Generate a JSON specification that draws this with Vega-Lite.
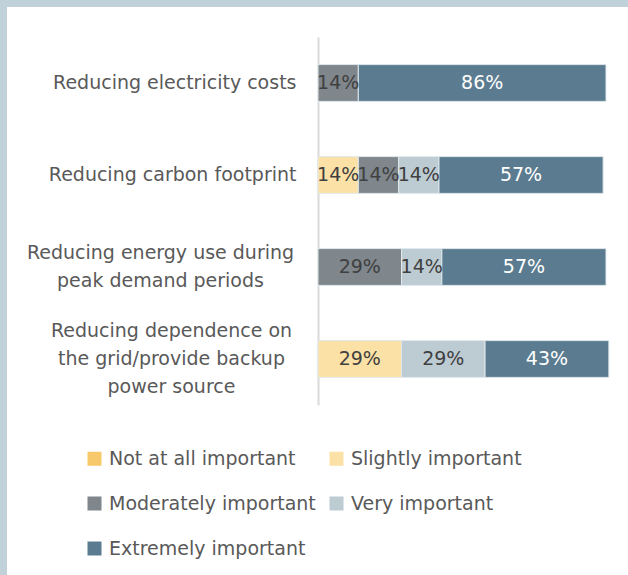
{
  "$schema": "https://vega.github.io/schema/vega-lite/v6.json",
  "width": 621,
  "height": 568,
  "autosize": {"type": "none"},
  "padding": {"left": 7, "top": 7, "right": 0, "bottom": 0},
  "background": "#c1d1d9",
  "config": {
    "view": {"fill": "white", "stroke": null},
    "font": "DejaVu Sans",
    "legend": {
      "orient": "none",
      "direction": "horizontal",
      "legendX": 78,
      "legendY": 442,
      "columns": 2,
      "symbolType": "square",
      "symbolSize": 196,
      "symbolStrokeWidth": 0,
      "labelFontSize": 19,
      "labelColor": "#595959",
      "labelOffset": 5,
      "rowPadding": 25,
      "columnPadding": 11,
      "labelLimit": 400,
      "title": null
    }
  },
  "data": {
    "values": [
      {"item": "Reducing electricity costs", "level": "Moderately important", "share": 0.14, "rank": 3},
      {"item": "Reducing electricity costs", "level": "Extremely important", "share": 0.86, "rank": 5},
      {"item": "Reducing carbon footprint", "level": "Slightly important", "share": 0.14, "rank": 2},
      {"item": "Reducing carbon footprint", "level": "Moderately important", "share": 0.14, "rank": 3},
      {"item": "Reducing carbon footprint", "level": "Very important", "share": 0.14, "rank": 4},
      {"item": "Reducing carbon footprint", "level": "Extremely important", "share": 0.57, "rank": 5},
      {"item": "Reducing energy use during\npeak demand periods", "level": "Moderately important", "share": 0.29, "rank": 3},
      {"item": "Reducing energy use during\npeak demand periods", "level": "Very important", "share": 0.14, "rank": 4},
      {"item": "Reducing energy use during\npeak demand periods", "level": "Extremely important", "share": 0.57, "rank": 5},
      {"item": "Reducing dependence on\nthe grid/provide backup\npower source", "level": "Slightly important", "share": 0.29, "rank": 2},
      {"item": "Reducing dependence on\nthe grid/provide backup\npower source", "level": "Very important", "share": 0.29, "rank": 4},
      {"item": "Reducing dependence on\nthe grid/provide backup\npower source", "level": "Extremely important", "share": 0.43, "rank": 5}
    ]
  },
  "transform": [
    {"stack": "share", "groupby": ["item"], "sort": [{"field": "rank", "order": "ascending"}], "as": ["s0", "s1"]},
    {"calculate": "(datum.s0 + datum.s1) / 2", "as": "mid"}
  ],
  "encoding": {
    "y": {
      "field": "item",
      "type": "nominal",
      "sort": [
        "Reducing electricity costs",
        "Reducing carbon footprint",
        "Reducing energy use during\npeak demand periods",
        "Reducing dependence on\nthe grid/provide backup\npower source"
      ],
      "scale": {"range": [30, 398], "paddingInner": 0.6, "paddingOuter": 0.3},
      "axis": {
        "title": null,
        "offset": -311,
        "ticks": false,
        "tickSize": 0,
        "domainColor": "#d9d9d9",
        "domainWidth": 2,
        "labelFontSize": 19,
        "labelColor": "#595959",
        "labelLimit": 400,
        "labelLineHeight": 28,
        "labelExpr": "split(datum.label, '\\n')",
        "labelAlign": {
          "condition": {"test": "datum.value === 'Reducing electricity costs' || datum.value === 'Reducing carbon footprint'", "value": "right"},
          "value": "center"
        },
        "labelPadding": {
          "condition": [
            {"test": "datum.value === 'Reducing electricity costs' || datum.value === 'Reducing carbon footprint'", "value": 22},
            {"test": "datum.value === 'Reducing energy use during\\npeak demand periods'", "value": 158}
          ],
          "value": 147
        },
        "labelOffset": {
          "condition": [
            {"test": "datum.value === 'Reducing electricity costs' || datum.value === 'Reducing carbon footprint'", "value": 0},
            {"test": "datum.value === 'Reducing energy use during\\npeak demand periods'", "value": -14}
          ],
          "value": -28
        }
      }
    }
  },
  "layer": [
    {
      "mark": {"type": "bar", "stroke": "#dfe8ec", "strokeWidth": 1},
      "encoding": {
        "x": {
          "field": "s0",
          "type": "quantitative",
          "scale": {"domain": [-1.0799, 1.0764], "nice": false, "zero": false},
          "axis": null
        },
        "x2": {"field": "s1"},
        "color": {
          "field": "level",
          "type": "nominal",
          "scale": {
            "domain": ["Not at all important", "Slightly important", "Moderately important", "Very important", "Extremely important"],
            "range": ["#f8c96b", "#fce1a6", "#7f868c", "#bdcbd3", "#5b7c90"]
          },
          "legend": {}
        }
      }
    },
    {
      "mark": {"type": "text", "fontSize": 19, "baseline": "middle"},
      "encoding": {
        "x": {"field": "mid", "type": "quantitative"},
        "text": {"field": "share", "type": "quantitative", "format": ".0%"},
        "color": {
          "condition": {"test": "datum.level === 'Extremely important'", "value": "white"},
          "value": "#404040"
        }
      }
    }
  ]
}
